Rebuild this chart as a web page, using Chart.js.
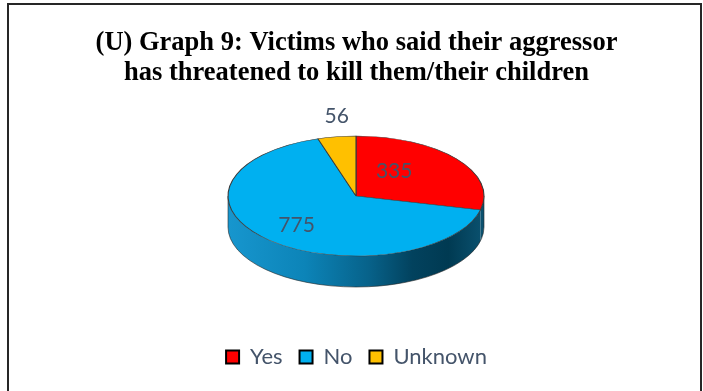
<!DOCTYPE html>
<html>
<head>
    <title>Graph 9 - Threats to kill</title>
    <script src="https://cdn.jsdelivr.net/npm/chart.js"></script>
    <style>
        html, body { margin: 0; padding: 0; background: #fff; }
        canvas { display: block; }
    </style>
</head>
<body>

<canvas id="threat_chart" width="703" height="391"></canvas>

<script>
// categories and counts
const categories = ['Yes', 'No', 'Unknown'];
const counts = [335, 775, 56];

const topColors = ['#FF0000', '#00B0F0', '#FFC000'];
// wall colours (null = shaded blue wall)
const sideColors = [null, null, '#B88A00'];

// where the flattened pie sits on the canvas
const pieX = 356, pieY = 196, pieRx = 128, pieRy = 60, pieDepth = 31;

// label placement per slice: radial factor and extra vertical lift
const labelPos = [[0.38, 11], [0.68, 1], [1.0, 20]];

function pieTransform(chart) {
    const arc = chart.getDatasetMeta(0).data[0];
    const r = arc.outerRadius;
    return { cx: arc.x, cy: arc.y, sx: pieRx / r, sy: pieRy / r };
}

// white card with dark border behind everything
const cardPlugin = {
    id: 'card',
    beforeDraw(chart) {
        const ctx = chart.ctx;
        ctx.save();
        ctx.fillStyle = '#fff';
        ctx.fillRect(0, 0, chart.width, chart.height);
        ctx.strokeStyle = '#262626';
        ctx.lineWidth = 2;
        ctx.strokeRect(8, 4, 693, 420);
        ctx.restore();
    }
};

// squash the pie into an ellipse and give it a side wall
const tiltPlugin = {
    id: 'tilt',
    beforeDatasetsDraw(chart) {
        const ctx = chart.ctx;
        const arcs = chart.getDatasetMeta(0).data;

        const grad = ctx.createLinearGradient(pieX - pieRx, 0, pieX + pieRx, 0);
        grad.addColorStop(0, '#1796CE');
        grad.addColorStop(0.3, '#0C84B8');
        grad.addColorStop(0.55, '#07628A');
        grad.addColorStop(0.72, '#02425E');
        grad.addColorStop(0.86, '#003A52');
        grad.addColorStop(1, '#0B5270');

        ctx.save();
        arcs.forEach((arc, i) => {
            const a0 = Math.max(arc.startAngle, 0);
            const a1 = Math.min(arc.endAngle, Math.PI);
            if (a1 <= a0) return;
            ctx.beginPath();
            ctx.ellipse(pieX, pieY, pieRx, pieRy, 0, a0, a1, false);
            ctx.ellipse(pieX, pieY + pieDepth, pieRx, pieRy, 0, a1, a0, true);
            ctx.closePath();
            ctx.fillStyle = sideColors[i] || grad;
            ctx.fill();
        });
        // outline of the wall
        ctx.beginPath();
        ctx.ellipse(pieX, pieY + pieDepth, pieRx, pieRy, 0, 0, Math.PI, false);
        ctx.moveTo(pieX - pieRx, pieY);
        ctx.lineTo(pieX - pieRx, pieY + pieDepth);
        ctx.moveTo(pieX + pieRx, pieY);
        ctx.lineTo(pieX + pieRx, pieY + pieDepth);
        ctx.strokeStyle = 'rgba(40,40,40,0.6)';
        ctx.lineWidth = 1;
        ctx.stroke();

        const t = pieTransform(chart);
        ctx.translate(pieX, pieY);
        ctx.scale(t.sx, t.sy);
        ctx.translate(-t.cx, -t.cy);
    },
    afterDatasetsDraw(chart) {
        const ctx = chart.ctx;
        ctx.restore();

        // value labels
        const arcs = chart.getDatasetMeta(0).data;
        ctx.save();
        ctx.font = '21px Lato, "Open Sans", sans-serif';
        ctx.fillStyle = '#44546A';
        ctx.textAlign = 'center';
        ctx.textBaseline = 'middle';
        arcs.forEach((arc, i) => {
            const mid = (arc.startAngle + arc.endAngle) / 2;
            const [f, lift] = labelPos[i];
            const x = pieX + pieRx * f * Math.cos(mid);
            const y = pieY + pieRy * f * Math.sin(mid) - lift;
            ctx.fillText(String(counts[i]), x, y);
        });
        ctx.restore();
    }
};

document.addEventListener("DOMContentLoaded", function() {
    const ctx = document.getElementById('threat_chart').getContext('2d');

    new Chart(ctx, {
        type: 'pie',
        data: {
            labels: categories,
            datasets: [{
                data: counts,
                backgroundColor: topColors,
                borderColor: '#3a3a3a',
                borderWidth: 1,
                clip: false
            }]
        },
        options: {
            responsive: false,
            animation: false,
            layout: {
                padding: { top: 0, bottom: 13, left: 30, right: 20 }
            },
            plugins: {
                title: {
                    display: true,
                    text: ['(U) Graph 9: Victims who said their aggressor',
                           'has threatened to kill them/their children'],
                    color: '#000',
                    font: { family: '"Liberation Serif", "Times New Roman", serif', size: 26.5, weight: 'bold', lineHeight: 1.1 },
                    padding: { top: 29, bottom: 10 }
                },
                legend: {
                    display: true,
                    position: 'bottom',
                    labels: {
                        color: '#44546A',
                        font: { family: 'Lato, "Open Sans", sans-serif', size: 22 },
                        boxWidth: 13,
                        boxHeight: 13,
                        padding: 17,
                        generateLabels(chart) {
                            return categories.map((c, i) => ({
                                text: c,
                                fillStyle: topColors[i],
                                strokeStyle: '#000',
                                lineWidth: 2,
                                fontColor: '#44546A',
                                index: i,
                                hidden: false
                            }));
                        }
                    }
                },
                tooltip: { enabled: false }
            }
        },
        plugins: [cardPlugin, tiltPlugin]
    });
});
</script>

</body>
</html>
